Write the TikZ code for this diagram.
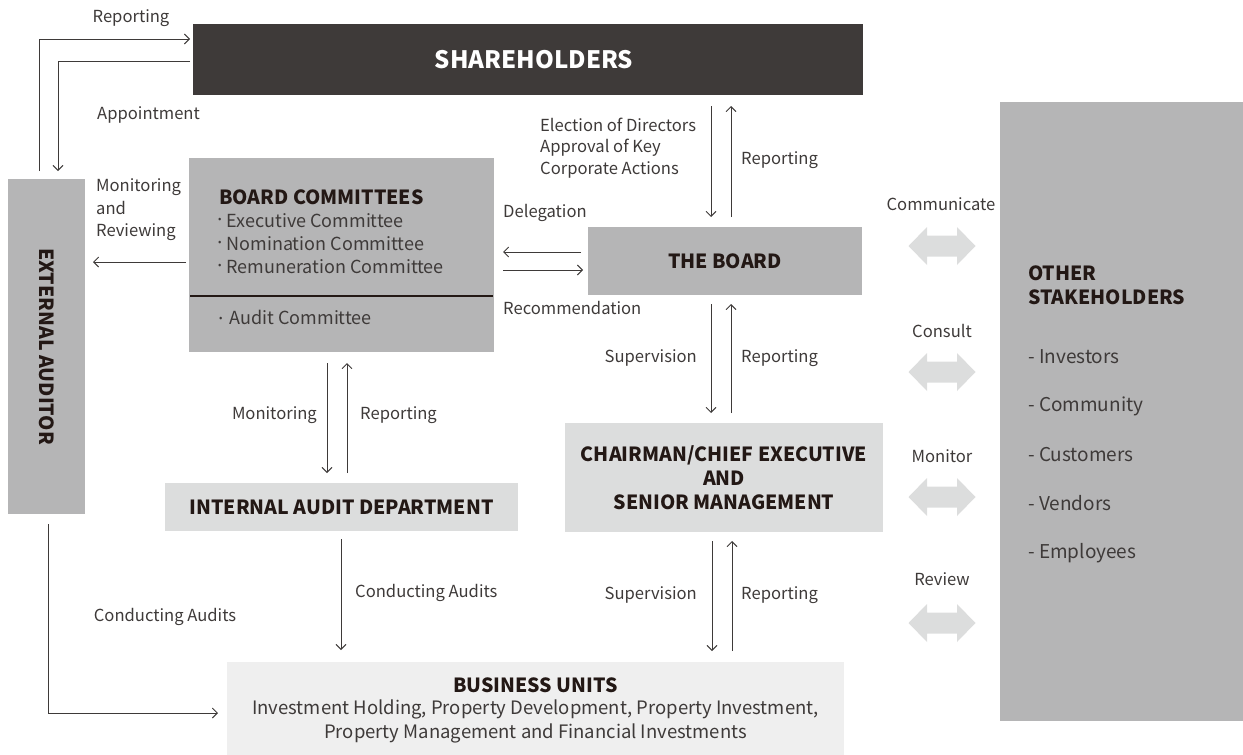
\documentclass[tikz,border=0pt]{standalone}
\usepackage{fontspec}
\setmainfont{Noto Sans CJK JP}
\usetikzlibrary{arrows.meta,calc}
\definecolor{dark}{HTML}{3E3A39}
\definecolor{midgray}{HTML}{B5B5B6}
\definecolor{lightgraybox}{HTML}{DCDDDD}
\definecolor{palegray}{HTML}{EFEFEF}
\definecolor{txt}{HTML}{231815}
\definecolor{linec}{HTML}{3E3A39}
\definecolor{arrowgray}{HTML}{DCDDDD}
\newcommand{\blt}{{\fontsize{10}{10}\selectfont\raisebox{0.55em}{•}}\hspace{5pt}}
\begin{document}
\begin{tikzpicture}[x=1pt,y=-1pt,
  box/.style={draw=none, inner sep=0pt, outer sep=0pt, anchor=north west},
  lbl/.style={font=\fontsize{16.6}{21.5}\selectfont, text=dark, inner sep=0pt},
  inbox/.style={font=\fontsize{18}{24}\selectfont, text=dark, inner sep=0pt},
  ttl/.style={font=\fontsize{19.5}{24}\selectfont\bfseries, text=txt, inner sep=0pt, align=center},
  arr/.style={draw=linec, line width=0.9pt, -{Straight Barb[length=5pt,width=10pt]}},
  dblarrow/.pic={\fill[arrowgray] (-33.5,0) -- (-15,-19) -- (-15,-10.5) -- (15,-10.5) -- (15,-19) -- (33.5,0) -- (15,19) -- (15,10.5) -- (-15,10.5) -- (-15,19) -- cycle;}
]
\useasboundingbox (0,0) rectangle (1243,755);
% boxes
\node[box, fill=dark, minimum width=670pt, minimum height=71pt] (sh) at (193,24) {};
\node[box, fill=midgray, minimum width=77pt, minimum height=335pt] (ext) at (8,179) {};
\node[box, fill=midgray, minimum width=305pt, minimum height=194pt] (bc) at (189,158) {};
\node[box, fill=midgray, minimum width=274pt, minimum height=68pt] (board) at (588,227) {};
\node[box, fill=lightgraybox, minimum width=318pt, minimum height=109pt] (chair) at (565,423) {};
\node[box, fill=lightgraybox, minimum width=353pt, minimum height=48pt] (ia) at (165,483) {};
\node[box, fill=palegray, minimum width=617pt, minimum height=93pt] (bu) at (227,662) {};
\node[box, fill=midgray, minimum width=243pt, minimum height=619pt] (os) at (1000,102) {};
% box texts
\node[ttl, text=white, font=\fontsize{24}{28}\selectfont\bfseries] (shT) at (534,60) {SHAREHOLDERS};
\node[ttl, rotate=-90] (extT) at (ext.center) {EXTERNAL AUDITOR};
\node[ttl, anchor=west] (bcT) at (219,197) {BOARD COMMITTEES};
\node[inbox, anchor=west] (bc1) at (218,221) {\blt Executive Committee};
\node[inbox, anchor=west] (bc2) at (218,244) {\blt Nomination Committee};
\node[inbox, anchor=west] (bc3) at (218,267) {\blt Remuneration Committee};
\coordinate (dv) at (0,296);
\draw[line width=1.6pt, txt] ([xshift=1pt]bc.west |- dv) -- ([xshift=-1pt]bc.east |- dv);
\node[inbox, anchor=west] (bc4) at (219,317) {{\fontsize{10}{10}\selectfont\raisebox{0.25em}{•}}\hspace{7pt}Audit Committee};
\node[ttl] (boardT) at (board.center) {THE BOARD};
\node[ttl] (chairT) at (chair.center) {CHAIRMAN/CHIEF EXECUTIVE\\AND\\SENIOR MANAGEMENT};
\node[ttl] (iaT) at (ia.center) {INTERNAL AUDIT DEPARTMENT};
\node[ttl] (buT) at (535.5,685) {BUSINESS UNITS};
\node[inbox, align=center, font=\fontsize{18.5}{24}\selectfont] (buS) at (535.5,721) {Investment Holding, Property Development, Property Investment,\\Property Management and Financial Investments};
\node[ttl, anchor=west, align=left] (osT) at (1028,285) {OTHER\\STAKEHOLDERS};
\node[inbox, anchor=west, font=\fontsize{19}{24}\selectfont] (os1) at (1028,357) {- Investors};
\node[inbox, anchor=west, font=\fontsize{19}{24}\selectfont] (os2) at (1028,406) {- Community};
\node[inbox, anchor=west, font=\fontsize{19}{24}\selectfont] (os3) at (1028,455) {- Customers};
\node[inbox, anchor=west, font=\fontsize{19}{24}\selectfont] (os4) at (1028,503) {- Vendors};
\node[inbox, anchor=west, font=\fontsize{19}{24}\selectfont] (os5) at (1028,553) {- Employees};
% lanes
\coordinate (L1) at (711,0);
\coordinate (L2) at (731,0);
\coordinate (L3) at (327,0);
\coordinate (L4) at (347,0);
\coordinate (L5) at (341,0);
% shareholders <-> board
\draw[arr, shorten <=11pt, shorten >=10pt] (sh.south -| L1) -- (board.north -| L1);
\draw[arr, shorten <=10pt, shorten >=11pt] (board.north -| L2) -- (sh.south -| L2);
% board <-> chairman
\draw[arr, shorten <=9pt, shorten >=10pt] (board.south -| L1) -- (chair.north -| L1);
\draw[arr, shorten <=10pt, shorten >=9pt] (chair.north -| L2) -- (board.south -| L2);
% chairman <-> business units
\draw[arr, shorten <=9pt, shorten >=11pt] ([xshift=1pt]chair.south -| L1) -- ([xshift=1pt]bu.north -| L1);
\draw[arr, shorten <=11pt, shorten >=9pt] ([xshift=1pt]bu.north -| L2) -- ([xshift=1pt]chair.south -| L2);
% committees <-> internal audit
\draw[arr, shorten <=11pt, shorten >=10pt] (bc.south -| L3) -- (ia.north -| L3);
\draw[arr, shorten <=10pt, shorten >=11pt] (ia.north -| L4) -- (bc.south -| L4);
% internal audit -> business units
\draw[arr, shorten <=8pt, shorten >=12pt] (ia.south -| L5) -- (bu.north -| L5);
% board <-> committees
\coordinate (d1) at (0,252);
\coordinate (d2) at (0,270);
\draw[arr, shorten <=7pt, shorten >=9pt] (board.west |- d1) -- (bc.east |- d1);
\draw[arr, shorten <=9pt, shorten >=5pt] (bc.east |- d2) -- (board.west |- d2);
% committees -> external auditor
\coordinate (m1) at (0,262);
\draw[arr, shorten <=3pt, shorten >=8pt] (bc.west |- m1) -- (ext.east |- m1);
% external auditor <-> shareholders
\coordinate (r1) at (39,39);
\draw[arr, shorten <=8pt, shorten >=3pt] (ext.north -| r1) -- (r1) -- (r1 -| sh.west);
\coordinate (a1) at (58,61);
\draw[arr, shorten <=3pt, shorten >=8pt] (a1 -| sh.west) -- (a1) -- (ext.north -| a1);
% external auditor -> business units
\coordinate (e1) at (48,713);
\draw[arr, shorten <=10pt, shorten >=9pt] (ext.south -| e1) -- (e1) -- (e1 -| bu.west);
% double arrows
\pic at (942,246) {dblarrow};
\pic at (942,372) {dblarrow};
\pic at (942,497) {dblarrow};
\pic at (942,623) {dblarrow};
% labels
\node[lbl] (lRep1) at (131,18) {Reporting};
\node[lbl, anchor=west] (lApp) at (97,115) {Appointment};
\node[lbl, anchor=west, align=left, font=\fontsize{16.6}{22.5}\selectfont] (lMR) at (96,210) {Monitoring\\and\\Reviewing};
\node[lbl, anchor=west, align=left] (lEl) at (540,148) {Election of Directors\\Approval of Key\\Corporate Actions};
\node[lbl, anchor=west] (lRep2) at (741,160) {Reporting};
\node[lbl, anchor=west] (lDel) at (503,213) {Delegation};
\node[lbl, anchor=west] (lRec) at (503,308) {Recommendation};
\node[lbl, anchor=east] (lSup1) at (697,358) {Supervision};
\node[lbl, anchor=west] (lRep3) at (741,358) {Reporting};
\node[lbl, anchor=east] (lMon) at (317,415) {Monitoring};
\node[lbl, anchor=west] (lRep4) at (360,415) {Reporting};
\node[lbl, anchor=west] (lCA1) at (355,593) {Conducting Audits};
\node[lbl] (lCA2) at (165,617) {Conducting Audits};
\node[lbl, anchor=east] (lSup2) at (697,595) {Supervision};
\node[lbl, anchor=west] (lRep5) at (741,595) {Reporting};
\node[lbl] (lCom) at (941,204) {Communicate};
\node[lbl] (lCon) at (942,331) {Consult};
\node[lbl] (lMnt) at (942,456) {Monitor};
\node[lbl] (lRev) at (942,579) {Review};
\end{tikzpicture}
\end{document}
